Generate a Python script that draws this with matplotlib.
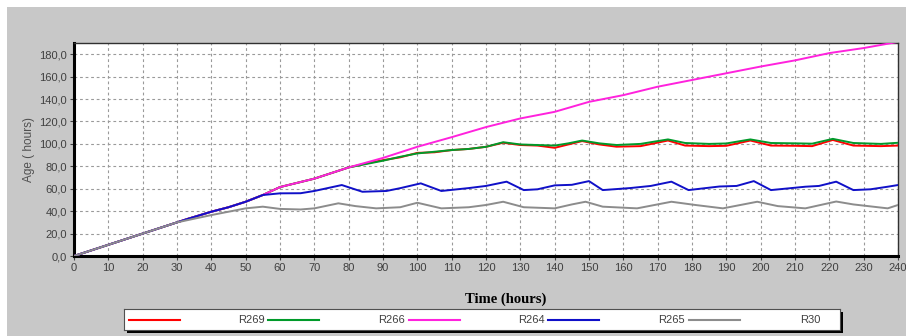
import matplotlib.pyplot as plt
from matplotlib.patches import Rectangle
from matplotlib.lines import Line2D

plt.rcParams['font.family'] = ['Liberation Sans', 'DejaVu Sans']

# series data (time in hours, age in hours)
t_gray = [0, 10, 20, 30, 40, 50, 55, 60, 66, 70, 77, 82, 88, 95, 100, 107, 115, 120, 125,
          131, 140, 145, 149, 154, 164, 174, 181, 189, 199, 205, 213, 222, 227, 237, 240]
v_gray = [0, 10, 20, 30, 36.5, 42.5, 44, 42, 41.5, 42.5, 47, 44.5, 42.5, 43.5, 47.5, 42.5, 43.5,
          45.5, 48.4, 43.5, 42.5, 46, 48.4, 44, 42.5, 48.4, 45.5, 42.5, 48.4, 44.5, 42.5, 48.6,
          46, 42.5, 45.5]

t_blue = [0, 10, 20, 30, 33, 40, 45, 50, 55, 60, 66, 70, 78, 84, 91, 95, 101, 107, 115, 120,
          126, 131, 135, 140, 145, 150, 154, 162, 168, 174, 179, 188, 193, 198, 203, 213, 217,
          222, 227, 232, 237, 240]
v_blue = [0, 10, 20, 30, 33, 39.5, 43.5, 48.4, 54.4, 55.9, 56, 58, 63.3, 57.3, 58, 60.5, 64.8,
          58, 60.6, 62.5, 66.3, 58.8, 59.5, 63, 63.5, 66.8, 58.8, 60.6, 62.5, 66.3, 58.8, 62,
          62.5, 66.8, 58.8, 61.8, 62.5, 66.3, 58.8, 59.5, 61.8, 63.3]

t_magenta = [0, 10, 20, 30, 33, 40, 45, 50, 55, 60, 70, 80, 90, 100, 110, 120, 130, 140, 150,
             160, 170, 180, 190, 200, 210, 220, 230, 240]
v_magenta = [0, 10, 20, 30, 33, 39.5, 43.5, 48.4, 54.4, 61.5, 69, 79, 87.5, 97.4, 106, 115,
             122.7, 128.6, 137.5, 143.5, 151, 157, 163, 169, 174.5, 181, 185.5, 191]

t_green = [0, 10, 20, 30, 33, 40, 45, 50, 55, 60, 70, 80, 85, 90, 95, 100, 105, 110, 115, 120,
           125, 130, 135, 140, 144, 148, 153, 158, 165, 173, 178, 185, 190, 197, 203, 210, 215,
           221, 227, 235, 240]
v_green = [0, 10, 20, 30, 33, 39.5, 43.5, 48.4, 54.4, 61.5, 69, 79, 82, 85, 88.5, 91.5, 93,
           94.5, 95.5, 97.4, 101.5, 99.5, 99, 98.5, 100.5, 103, 100.5, 99, 100, 104, 100.8, 100,
           100.4, 104, 100.8, 100.5, 100.2, 104.5, 100.8, 100, 101]

t_red = [0, 10, 20, 30, 33, 40, 45, 50, 55, 60, 70, 80, 85, 90, 95, 100, 105, 110, 115, 120,
         125, 130, 135, 140, 144, 148, 153, 158, 165, 173, 178, 185, 190, 197, 203, 210, 215,
         221, 227, 235, 240]
v_red = [0, 10, 20, 30, 33, 39.5, 43.5, 48.4, 54.4, 61.5, 69, 79, 82.5, 85.5, 88, 92, 92.5,
         94.5, 95.5, 97.4, 101, 99, 98.5, 96.5, 99.5, 102.5, 99.5, 97.5, 98, 103, 98.5, 98,
         98.3, 103, 98.5, 98.3, 98, 103.5, 98.5, 98, 98.5]

legend_labels = ['R269', 'R266', 'R264', 'R265', 'R30']
x_ticks = list(range(0, 241, 10))
y_ticks = list(range(0, 181, 20))

bg = '#c8c8c8'
fig = plt.figure(figsize=(9.06, 3.36), dpi=100)
fig.patch.set_facecolor('white')
fig.patches.append(Rectangle((7 / 906, 0), 1, 1 - 7 / 336, transform=fig.transFigure,
                             facecolor=bg, edgecolor='none', zorder=-10))

ax = fig.add_axes([74 / 906, 1 - 256 / 336, (898 - 74) / 906, (256 - 43) / 336])
ax.set_facecolor('white')

ax.plot(t_red, v_red, color='#ff0000', lw=1.4, zorder=3)
ax.plot(t_green, v_green, color='#009a2a', lw=1.4, zorder=3)
ax.plot(t_magenta, v_magenta, color='#ff22dd', lw=1.4, zorder=4)
ax.plot(t_blue, v_blue, color='#1010c8', lw=1.4, zorder=5)
ax.plot(t_gray, v_gray, color='#8c8c8c', lw=1.4, zorder=6)

ax.set_xlim(0, 240)
ax.set_ylim(0, 190)
ax.set_xticks(x_ticks)
ax.set_yticks(y_ticks)
ax.set_yticklabels([('%.1f' % v).replace('.', ',') for v in y_ticks])
ax.tick_params(labelsize=8, colors='#404040', length=3, width=0.8, pad=2)
ax.grid(True, color='#9a9a9a', linestyle=(0, (2.5, 2.5)), linewidth=0.8)

for side in ['left', 'bottom']:
    ax.spines[side].set_linewidth(2.2)
    ax.spines[side].set_color('black')
for side in ['top', 'right']:
    ax.spines[side].set_linewidth(1.0)
    ax.spines[side].set_color('#303030')

ax.set_ylabel('Age ( hours)', fontsize=8.5, color='#505050', labelpad=3)
fig.text(506 / 906, 1 - 299 / 336, 'Time (hours)', ha='center', va='center',
         fontsize=10.5, fontweight='bold', family='Liberation Serif')

# legend box with drop shadow
fig.patches.append(Rectangle((127 / 906, 1 - 333 / 336), (840 - 124) / 906, 21 / 336,
                             transform=fig.transFigure, facecolor='black', edgecolor='none',
                             zorder=-5))
lax = fig.add_axes([124 / 906, 1 - 330 / 336, (840 - 124) / 906, 21 / 336])
lax.set_zorder(5)
lax.set_xlim(124, 840)
lax.set_ylim(0, 1)
lax.set_xticks([])
lax.set_yticks([])
lax.set_facecolor('white')
for s in lax.spines.values():
    s.set_color('#505050')
    s.set_linewidth(0.8)

legend_colors = ['#ff0000', '#009a2a', '#ff22dd', '#1010c8', '#8c8c8c']
line_starts = [129, 268, 409, 548, 689]
text_ends = [265, 405, 545, 685, 820]
for x0, c in zip(line_starts, legend_colors):
    lax.add_line(Line2D([x0, x0 + 51], [0.5, 0.5], color=c, lw=1.5))
for xe, lab in zip(text_ends, legend_labels):
    lax.text(xe, 0.48, lab, ha='right', va='center', fontsize=8, color='#404040')

fig.savefig('out.png', dpi=100, facecolor=fig.get_facecolor())
